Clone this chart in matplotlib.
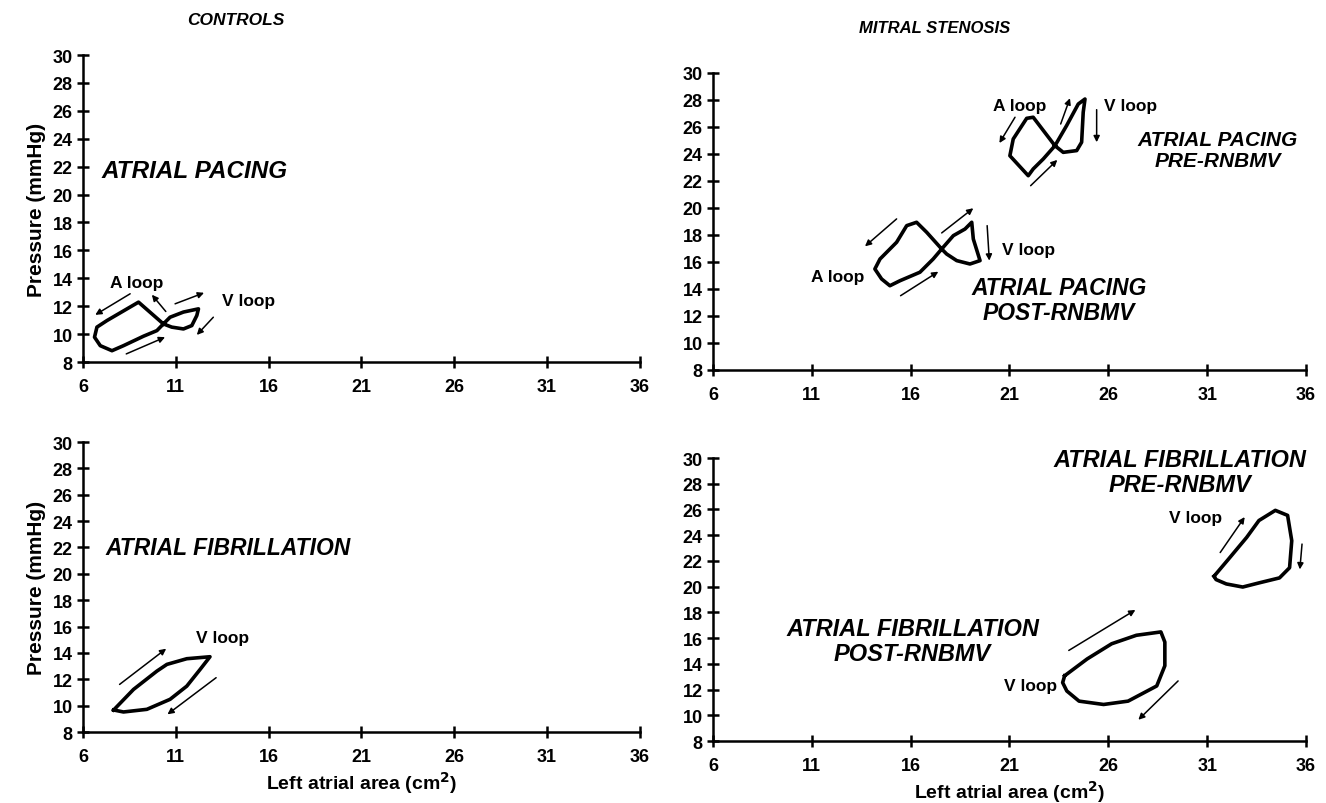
import matplotlib
matplotlib.use("Agg")
import matplotlib.pyplot as plt

plt.rcParams['font.family'] = ['Liberation Sans', 'DejaVu Sans']
plt.rcParams['font.weight'] = 'bold'

xticks = [6, 11, 16, 21, 26, 31, 36]
yticks = list(range(8, 31, 2))

# controls, atrial pacing (figure-8: A loop left, V loop right)
ctl_ap_x = [10.33, 10.78, 11.41, 11.86, 12.13, 12.22, 11.41, 10.69, 10.33, 9.98, 9.26,
            8.18, 7.56, 6.93, 6.62, 6.75, 7.29, 8.99, 10.33]
ctl_ap_y = [10.73, 10.5, 10.37, 10.61, 11.33, 11.81, 11.58, 11.21, 10.73, 10.25, 9.85,
            9.17, 8.81, 9.17, 9.78, 10.5, 10.97, 12.29, 10.73]
ctl_ap_arrows = [(8.54, 12.89, 6.66, 11.38), (10.46, 11.62, 9.71, 12.82),
                 (10.96, 12.17, 12.52, 12.96), (13.02, 11.21, 12.13, 9.94),
                 (8.33, 8.58, 10.42, 9.78)]

# controls, atrial fibrillation
ctl_af_x = [7.65, 8.72, 9.98, 10.52, 11.59, 12.84, 12.31, 11.59, 10.69, 9.44, 8.18, 7.65]
ctl_af_y = [9.67, 11.23, 12.62, 13.13, 13.56, 13.71, 12.75, 11.48, 10.48, 9.72, 9.52, 9.67]
ctl_af_arrows = [(7.97, 11.61, 10.48, 14.32), (13.17, 12.12, 10.55, 9.34)]

# mitral stenosis, atrial pacing pre-RNBMV
ms_pre_ap_x = [23.30, 22.71, 22.20, 21.95, 21.02, 21.19, 21.87, 22.20, 23.30, 23.89, 24.48,
               24.82, 24.73, 24.65, 24.40, 23.72, 23.30]
ms_pre_ap_y = [24.61, 23.63, 22.89, 22.39, 23.87, 25.11, 26.64, 26.72, 24.61, 26.10, 27.70,
               28.07, 27.09, 24.87, 24.25, 24.12, 24.61]
ms_pre_ap_arrows = [(21.28, 26.72, 20.49, 24.81), (23.59, 26.22, 24.06, 28.13),
                    (25.41, 27.28, 25.41, 24.87), (22.07, 21.65, 23.42, 23.56)]

# mitral stenosis, atrial pacing post-RNBMV
ms_post_ap_x = [17.57, 17.14, 16.47, 15.46, 14.95, 14.53, 14.19, 14.45, 15.29, 15.80, 16.30,
                16.81, 17.57, 18.16, 18.75, 19.09, 19.17, 19.51, 19.00, 18.33, 17.82, 17.57]
ms_post_ap_y = [16.96, 16.22, 15.24, 14.61, 14.24, 14.74, 15.48, 16.22, 17.46, 18.69, 18.94,
                18.20, 16.96, 17.95, 18.44, 18.94, 17.70, 16.10, 15.85, 16.10, 16.59, 16.96]
ms_post_ap_arrows = [(15.29, 19.19, 13.69, 17.16), (17.57, 18.15, 19.17, 19.98),
                     (19.87, 18.69, 19.98, 16.10), (15.49, 13.50, 17.40, 15.28)]

# mitral stenosis, atrial fibrillation pre-RNBMV
ms_pre_af_x = [31.35, 32.07, 33.00, 33.62, 34.45, 35.07, 35.28, 35.17, 34.66, 33.62, 32.80,
               31.97, 31.45, 31.35]
ms_pre_af_y = [20.81, 22.12, 23.83, 25.14, 25.93, 25.54, 23.57, 21.47, 20.68, 20.29, 19.97,
               20.21, 20.55, 20.81]
ms_pre_af_arrows = [(31.66, 22.65, 32.90, 25.41), (35.80, 23.31, 35.69, 21.34)]

# mitral stenosis, atrial fibrillation post-RNBMV
ms_post_af_x = [23.79, 24.93, 26.17, 27.42, 28.66, 28.86, 28.86, 28.45, 27.00, 25.76, 24.52,
                23.90, 23.69, 23.79]
ms_post_af_y = [13.07, 14.38, 15.56, 16.22, 16.48, 15.69, 13.85, 12.28, 11.10, 10.84, 11.10,
                11.89, 12.54, 13.07]
ms_post_af_arrows = [(24.00, 15.04, 27.37, 18.19), (29.53, 12.67, 27.52, 9.65)]


def setup(ax, ylabel=True, xlabel=False):
    ax.set_xlim(6, 36)
    ax.set_ylim(8, 30)
    for s in ['top', 'right']:
        ax.spines[s].set_visible(False)
    for s in ['left', 'bottom']:
        ax.spines[s].set_linewidth(1.8)
    ax.set_xticks(xticks)
    ax.set_yticks(yticks)
    ax.tick_params(direction='inout', length=9, width=1.8, labelsize=13, pad=3)
    for lab in ax.get_xticklabels() + ax.get_yticklabels():
        lab.set_fontweight('bold')
    ax.tick_params(axis='x', pad=7)
    if ylabel:
        ax.set_ylabel('Pressure (mmHg)', fontsize=15, fontweight='bold', labelpad=5)
    if xlabel:
        ax.set_xlabel('Left atrial area (cm$^\\mathbf{2}$)', fontsize=14, fontweight='bold', labelpad=3)


def loop(ax, xs, ys, arrows):
    ax.plot(xs, ys, color='black', lw=2.6, solid_joinstyle='round', clip_on=False)
    for x0, y0, x1, y1 in arrows:
        ax.annotate('', xy=(x1, y1), xytext=(x0, y0),
                    arrowprops=dict(arrowstyle='-|>', color='black', lw=1.1,
                                    mutation_scale=9, shrinkA=0, shrinkB=0))


fig = plt.figure(figsize=(13.26, 8.04), dpi=100)

ax1 = fig.add_axes([0.0626, 0.5485, 0.420, 0.3818])
ax2 = fig.add_axes([0.5377, 0.5386, 0.4472, 0.3694])
ax3 = fig.add_axes([0.0626, 0.0883, 0.420, 0.3607])
ax4 = fig.add_axes([0.5377, 0.0771, 0.4472, 0.3520])

setup(ax1)
setup(ax2, ylabel=False)
setup(ax3, xlabel=True)
setup(ax4, ylabel=False, xlabel=True)

fig.text(0.178, 0.975, 'CONTROLS', fontsize=12.5, fontweight='bold', style='italic', ha='center', va='center')
fig.text(0.705, 0.965, 'MITRAL STENOSIS', fontsize=12, fontweight='bold', style='italic', ha='center', va='center')

big = dict(fontweight='bold', style='italic', va='center', linespacing=1.1)
small = dict(fontsize=12.5, fontweight='bold', va='center')

# controls, atrial pacing
loop(ax1, ctl_ap_x, ctl_ap_y, ctl_ap_arrows)
ax1.text(7.0, 21.7, 'ATRIAL PACING', ha='left', fontsize=17.5, **big)
ax1.text(8.9, 13.7, 'A loop', ha='center', **small)
ax1.text(14.9, 12.4, 'V loop', ha='center', **small)

# mitral stenosis, atrial pacing
loop(ax2, ms_pre_ap_x, ms_pre_ap_y, ms_pre_ap_arrows)
loop(ax2, ms_post_ap_x, ms_post_ap_y, ms_post_ap_arrows)
ax2.text(35.6, 24.3, 'ATRIAL PACING\nPRE-RNBMV', ha='right', multialignment='center', fontsize=15, **big)
ax2.text(23.5, 13.2, 'ATRIAL PACING\nPOST-RNBMV', ha='center', fontsize=16.5, **big)
ax2.text(21.5, 27.6, 'A loop', ha='center', **small)
ax2.text(25.8, 27.6, 'V loop', ha='left', **small)
ax2.text(12.3, 14.9, 'A loop', ha='center', **small)
ax2.text(20.6, 16.9, 'V loop', ha='left', **small)

# controls, atrial fibrillation
loop(ax3, ctl_af_x, ctl_af_y, ctl_af_arrows)
ax3.text(7.2, 22.0, 'ATRIAL FIBRILLATION', ha='left', fontsize=16.5, **big)
ax3.text(13.5, 15.2, 'V loop', ha='center', **small)

# mitral stenosis, atrial fibrillation
loop(ax4, ms_pre_af_x, ms_pre_af_y, ms_pre_af_arrows)
loop(ax4, ms_post_af_x, ms_post_af_y, ms_post_af_arrows)
ax4.text(29.6, 28.9, 'ATRIAL FIBRILLATION\nPRE-RNBMV', ha='center', fontsize=17, **big)
ax4.text(16.1, 15.8, 'ATRIAL FIBRILLATION\nPOST-RNBMV', ha='center', fontsize=17, **big)
ax4.text(30.4, 25.4, 'V loop', ha='center', **small)
ax4.text(23.4, 12.3, 'V loop', ha='right', **small)

fig.savefig('out.png', dpi=100)
